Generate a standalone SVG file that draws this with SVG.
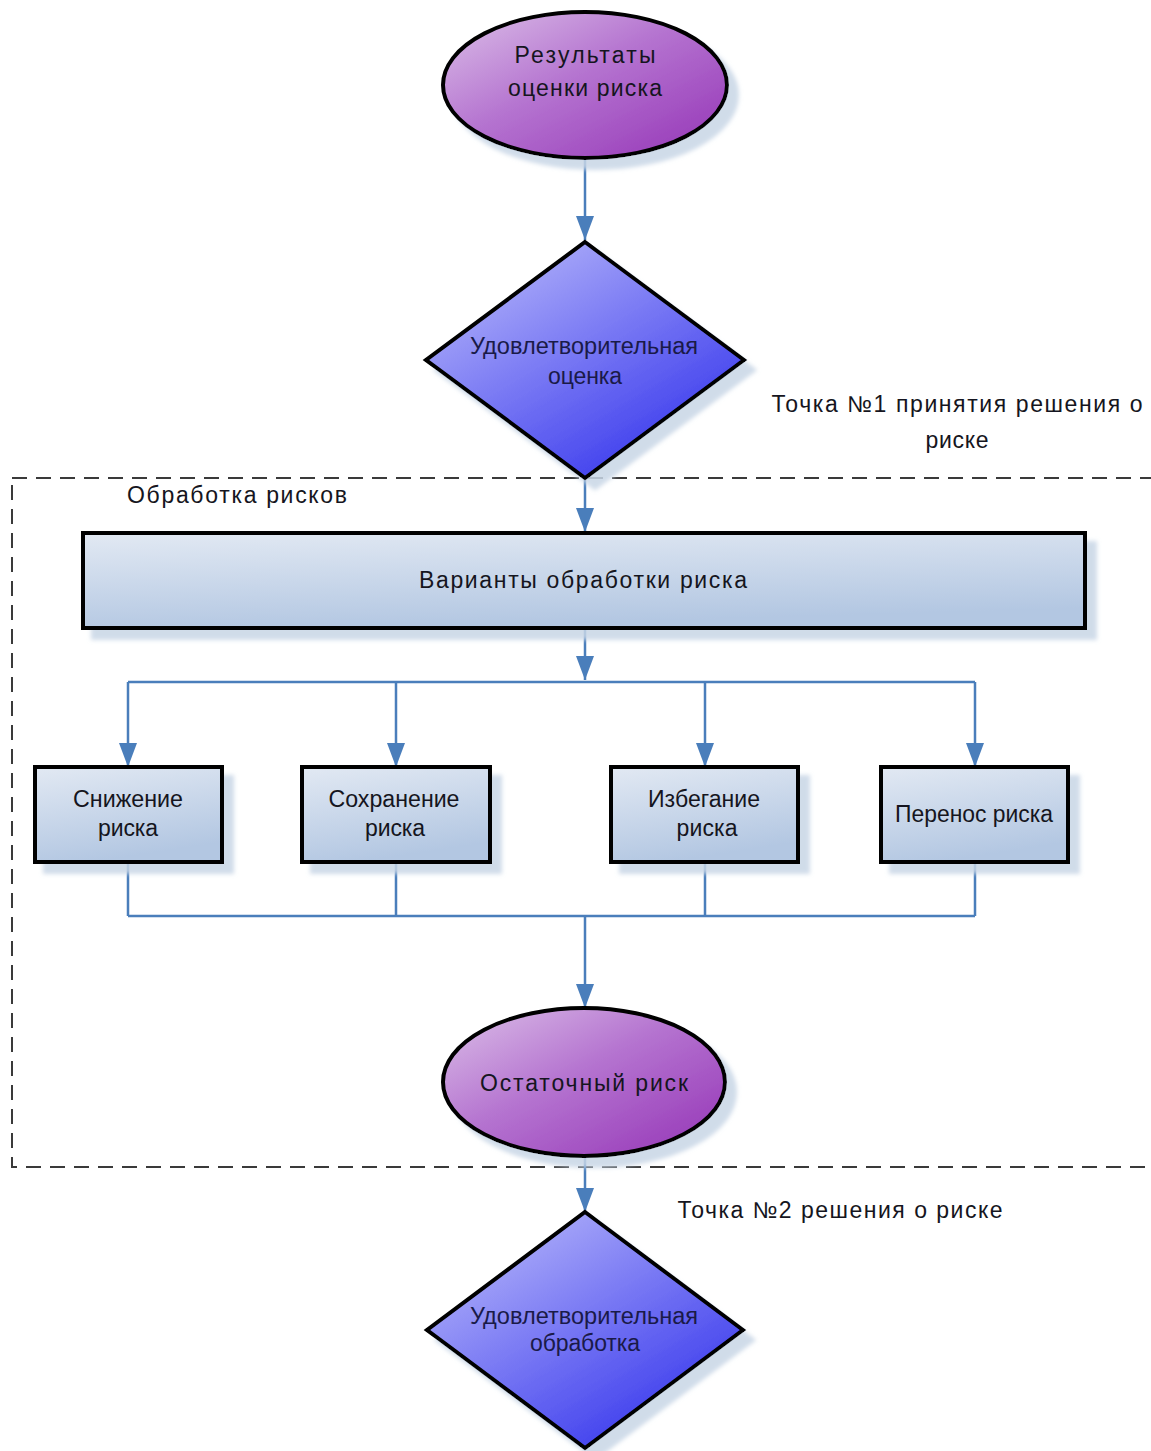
<svg xmlns="http://www.w3.org/2000/svg" width="1151" height="1451" viewBox="0 0 1151 1451">
<style>
  text { font-family: "Liberation Sans", Arial, sans-serif; font-size: 23px; fill: #151520; }
  .lbl { text-anchor: middle; }
  .shape { stroke: #000; stroke-width: 4; stroke-linejoin: miter; }
  .conn { fill: none; stroke: #4a7ebb; stroke-width: 2.5; }
  .frame { fill: none; stroke: #3a3a3a; stroke-width: 2; stroke-dasharray: 15 9; }
</style>
<defs>
  <linearGradient id="gPurple" x1="0" y1="0" x2="1" y2="1">
    <stop offset="0" stop-color="#dcc0e8"/>
    <stop offset="0.45" stop-color="#b574d0"/>
    <stop offset="1" stop-color="#9433b6"/>
  </linearGradient>
  <linearGradient id="gBlue" x1="0" y1="0" x2="0.8" y2="1">
    <stop offset="0" stop-color="#c4c4fb"/>
    <stop offset="0.5" stop-color="#7a7af4"/>
    <stop offset="1" stop-color="#3232ec"/>
  </linearGradient>
  <linearGradient id="gBox" x1="0" y1="0" x2="0.3" y2="1">
    <stop offset="0" stop-color="#e2e9f3"/>
    <stop offset="1" stop-color="#b3c7e2"/>
  </linearGradient>
  <filter id="shadow" x="-10%" y="-10%" width="130%" height="140%">
    <feGaussianBlur in="SourceAlpha" stdDeviation="2" result="b"/>
    <feOffset in="b" dx="10" dy="10" result="o"/>
    <feFlood flood-color="#c8d6e6" flood-opacity="0.85"/>
    <feComposite in2="o" operator="in" result="s"/>
    <feMerge><feMergeNode in="s"/><feMergeNode in="SourceGraphic"/></feMerge>
  </filter>
  <marker id="arrow" markerUnits="userSpaceOnUse" markerWidth="24" markerHeight="18" refX="24" refY="9" orient="auto">
    <path d="M0,0 L24,9 L0,18 z" fill="#4a7ebb"/>
  </marker>
</defs>
<rect width="1151" height="1451" fill="#ffffff"/>

<g id="frame-obrabotka">
  <rect class="frame" x="12" y="478" width="1170" height="689"/>
  <text x="127" y="503" textLength="220" lengthAdjust="spacing">Обработка рисков</text>
</g>

<g id="connectors">
  <path class="conn" d="M585,160 V240" marker-end="url(#arrow)"/>
  <path class="conn" d="M585,478 V532" marker-end="url(#arrow)"/>
  <path class="conn" d="M585,628 V680" marker-end="url(#arrow)"/>
  <path class="conn" d="M128,682 H975"/>
  <path class="conn" d="M128,682 V767" marker-end="url(#arrow)"/>
  <path class="conn" d="M396,682 V767" marker-end="url(#arrow)"/>
  <path class="conn" d="M705,682 V767" marker-end="url(#arrow)"/>
  <path class="conn" d="M975,682 V767" marker-end="url(#arrow)"/>
  <path class="conn" d="M128,862 V916 M396,862 V916 M705,862 V916 M975,862 V916 M128,916 H975"/>
  <path class="conn" d="M585,916 V1008" marker-end="url(#arrow)"/>
  <path class="conn" d="M585,1155 V1212" marker-end="url(#arrow)"/>
</g>

<g id="node-rezultaty">
  <ellipse class="shape" cx="585" cy="85" rx="142" ry="73" fill="url(#gPurple)" filter="url(#shadow)"/>
  <text class="lbl" x="585" y="63" textLength="141" lengthAdjust="spacing">Результаты</text>
  <text class="lbl" x="585" y="96" textLength="154" lengthAdjust="spacing">оценки риска</text>
</g>

<g id="node-udovl-ocenka">
  <path class="shape" d="M585,242 L744,360 L585,478 L426,360 Z" fill="url(#gBlue)" filter="url(#shadow)"/>
  <text class="lbl" x="584" y="354" textLength="228" lengthAdjust="spacingAndGlyphs" style="fill:#1a1a48">Удовлетворительная</text>
  <text class="lbl" x="585" y="384" textLength="74" lengthAdjust="spacing" style="fill:#1a1a48">оценка</text>
</g>

<g id="label-tochka1">
  <text class="lbl" x="957" y="412" textLength="371" lengthAdjust="spacing">Точка №1 принятия решения о</text>
  <text class="lbl" x="957" y="448" textLength="63" lengthAdjust="spacing">риске</text>
</g>

<g id="node-varianty">
  <rect class="shape" x="83" y="533" width="1002" height="95" fill="url(#gBox)" filter="url(#shadow)"/>
  <text class="lbl" x="583" y="588" textLength="328" lengthAdjust="spacing">Варианты обработки риска</text>
</g>

<g id="node-snizhenie">
  <rect class="shape" x="35" y="767" width="187" height="95" fill="url(#gBox)" filter="url(#shadow)"/>
  <text class="lbl" x="128" y="807" textLength="110" lengthAdjust="spacingAndGlyphs">Снижение</text>
  <text class="lbl" x="128" y="836" textLength="60" lengthAdjust="spacing">риска</text>
</g>

<g id="node-sohranenie">
  <rect class="shape" x="302" y="767" width="188" height="95" fill="url(#gBox)" filter="url(#shadow)"/>
  <text class="lbl" x="394" y="807" textLength="131" lengthAdjust="spacingAndGlyphs">Сохранение</text>
  <text class="lbl" x="395" y="836" textLength="60" lengthAdjust="spacing">риска</text>
</g>

<g id="node-izbeganie">
  <rect class="shape" x="611" y="767" width="187" height="95" fill="url(#gBox)" filter="url(#shadow)"/>
  <text class="lbl" x="704" y="807" textLength="112" lengthAdjust="spacingAndGlyphs">Избегание</text>
  <text class="lbl" x="707" y="836" textLength="61" lengthAdjust="spacing">риска</text>
</g>

<g id="node-perenos">
  <rect class="shape" x="881" y="767" width="187" height="95" fill="url(#gBox)" filter="url(#shadow)"/>
  <text class="lbl" x="974" y="822" textLength="158" lengthAdjust="spacingAndGlyphs">Перенос риска</text>
</g>

<g id="node-ostatochny">
  <ellipse class="shape" cx="584" cy="1082" rx="141" ry="74" fill="url(#gPurple)" filter="url(#shadow)"/>
  <text class="lbl" x="584" y="1091" textLength="208" lengthAdjust="spacing">Остаточный риск</text>
</g>

<g id="label-tochka2">
  <text class="lbl" x="840" y="1218" textLength="325" lengthAdjust="spacing">Точка №2 решения о риске</text>
</g>

<g id="node-udovl-obrabotka">
  <path class="shape" d="M585,1212 L743,1330 L585,1448 L427,1330 Z" fill="url(#gBlue)" filter="url(#shadow)"/>
  <text class="lbl" x="584" y="1324" textLength="228" lengthAdjust="spacingAndGlyphs" style="fill:#1a1a48">Удовлетворительная</text>
  <text class="lbl" x="585" y="1351" textLength="110" lengthAdjust="spacing" style="fill:#1a1a48">обработка</text>
</g>
</svg>
